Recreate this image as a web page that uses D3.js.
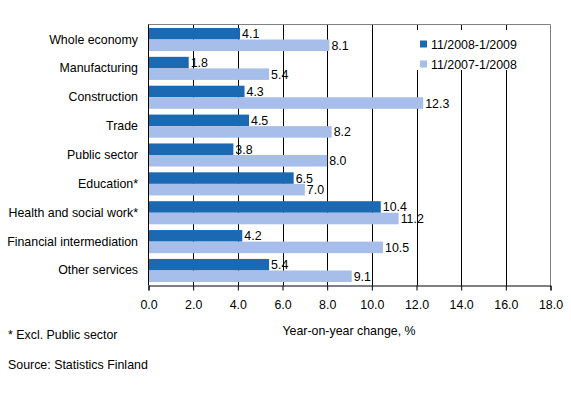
<!DOCTYPE html>
<html>
<head>
<meta charset="utf-8">
<style>
  body { margin: 0; background: #fff; }
  svg text { font-family: "Liberation Sans", Arial, sans-serif; font-size: 12.4px; fill: #000; }
</style>
<script src="https://d3js.org/d3.v7.min.js"></script>
</head>
<body>
<svg id="chart" width="571" height="395"></svg>
<script>
  let categories = ["Whole economy", "Manufacturing", "Construction", "Trade", "Public sector",
    "Education*", "Health and social work*", "Financial intermediation", "Other services"];
  let series2009 = [4.1, 1.8, 4.3, 4.5, 3.8, 6.5, 10.4, 4.2, 5.4];
  let series2008 = [8.1, 5.4, 12.3, 8.2, 8.0, 7.0, 11.2, 10.5, 9.1];
  let seriesNames = ["11/2008-1/2009", "11/2007-1/2008"];
  let tickValues = [0, 2, 4, 6, 8, 10, 12, 14, 16, 18];

  let colors = ["#1b68b3", "#a7bdea"];
  let plotL = 148.5, plotR = 550.5, plotT = 24.5, plotB = 285.5;

  let svg = d3.select("#chart");

  let x = d3.scaleLinear().domain([0, 18]).range([plotL, plotR]);
  let y = d3.scaleBand().domain(categories).range([plotT, plotB]).paddingInner(0.2).paddingOuter(0.12);

  // gridlines
  svg.append("g").selectAll("line")
    .data(tickValues.slice(1, -1))
    .enter().append("line")
    .attr("x1", d => Math.round(x(d)) + 0.5).attr("x2", d => Math.round(x(d)) + 0.5)
    .attr("y1", plotT).attr("y2", plotB)
    .attr("stroke", "#000").attr("stroke-width", 1);

  // frame top/right in gray
  svg.append("path")
    .attr("d", `M${plotL},${plotT}H${plotR}V${plotB}`)
    .attr("fill", "none").attr("stroke", "#808080");

  let rows = categories.map((c, i) => ({ c: c, v: [series2009[i], series2008[i]] }));
  let bh = y.bandwidth() / 2;

  let g = svg.append("g").selectAll("g").data(rows).enter().append("g");
  [0, 1].forEach(k => {
    g.append("rect")
      .attr("x", plotL)
      .attr("y", d => y(d.c) + k * bh)
      .attr("width", d => x(d.v[k]) - plotL)
      .attr("height", bh)
      .attr("fill", colors[k]);
    g.append("text")
      .attr("x", d => x(d.v[k]) + 2)
      .attr("y", d => y(d.c) + k * bh + bh / 2 + 4.5)
      .text(d => d.v[k].toFixed(1));
  });

  // category labels
  svg.append("g").selectAll("text").data(categories).enter().append("text")
    .attr("x", 138)
    .attr("y", d => y(d) + y.bandwidth() / 2 + 4)
    .attr("text-anchor", "end")
    .text(d => d);

  // axes
  svg.append("line").attr("x1", plotL).attr("x2", plotL).attr("y1", plotT).attr("y2", plotB)
    .attr("stroke", "#000");
  let xAxis = svg.append("g").attr("transform", `translate(0,${plotB})`)
    .call(d3.axisBottom(x).tickValues(tickValues).tickFormat(d3.format(".1f")).tickSize(5).tickPadding(10));
  xAxis.select(".domain").attr("stroke", "#000");
  xAxis.selectAll("text").style("font-size", "12.4px").attr("font-family", null);
  xAxis.selectAll(".tick line").attr("stroke", "#000");

  // legend
  let lg = svg.append("g");
  lg.append("rect").attr("x", 410).attr("y", 30).attr("width", 139).attr("height", 40).attr("fill", "#fff");
  seriesNames.forEach((n, i) => {
    lg.append("rect").attr("x", 420).attr("y", 40.5 + i * 20).attr("width", 7).attr("height", 7).attr("fill", colors[i]);
    lg.append("text").attr("x", 431).attr("y", 48.5 + i * 20).text(n);
  });

  svg.append("text").attr("x", 349).attr("y", 335).attr("text-anchor", "middle").text("Year-on-year change, %");
  svg.append("text").attr("x", 8).attr("y", 339).text("* Excl. Public sector");
  svg.append("text").attr("x", 8).attr("y", 369).text("Source: Statistics Finland");
</script>
</body>
</html>
